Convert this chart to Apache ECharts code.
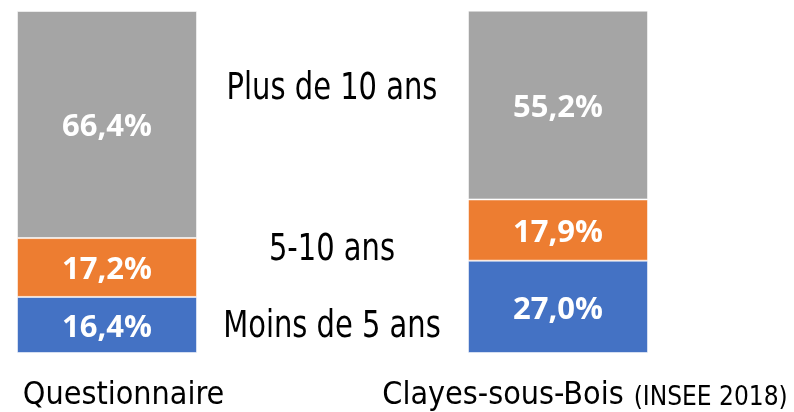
<!DOCTYPE html>
<html>
<head>
<meta charset="utf-8">
<script src="https://cdn.jsdelivr.net/npm/echarts@6/dist/echarts.min.js"></script>
<style>
  html, body { margin: 0; padding: 0; background: #fff; }
  #chart { width: 794px; height: 412px; }
</style>
</head>
<body>
<div id="chart"></div>
<script>
// categories and series values (%)
const categories = ['Questionnaire', 'Clayes-sous-Bois']
const categoryNotes = ['', '(INSEE 2018)']
const seriesNames = ['Moins de 5 ans', '5-10 ans', 'Plus de 10 ans']
const moinsDe5 = [16.4, 27.0]
const de5a10 = [17.2, 17.9]
const plusDe10 = [66.4, 55.2]
const colors = ['#4472C4', '#ED7D31', '#A5A5A5']

const FONT_NARROW = '"DejaVu Sans Condensed", "Liberation Sans Narrow", sans-serif'

const chart = echarts.init(document.getElementById('chart'))

function fmt(p) {
    return p.value.toFixed(1).replace('.', ',') + '%'
}

function makeSeries(name, data, color) {
    return {
        name: name,
        type: 'bar',
        stack: 'total',
        data: data,
        barWidth: 180,
        clip: false,
        itemStyle: {
            color: color,
            borderColor: 'rgba(255,255,255,0.55)',
            borderWidth: 1
        },
        label: {
            show: true,
            position: 'inside',
            offset: [0, 3],
            formatter: fmt,
            color: '#fff',
            fontFamily: '"Open Sans", sans-serif',
            fontWeight: 'bold',
            fontSize: 31
        }
    }
}

function sideLabel(text, y) {
    return {
        type: 'text', x: 332, y: y, scaleX: 0.87,
        style: { text: text, fill: '#000', font: '37px ' + FONT_NARROW, align: 'center', verticalAlign: 'middle' }
    }
}

const option = {
    animation: false,
    // categories sit on the grid edges: bar centres at x=107 and x=558
    grid: {
        left: 107,
        right: 236,
        top: 11,
        bottom: 57,
        containLabel: false
    },
    xAxis: {
        type: 'category',
        data: categories,
        boundaryGap: false,
        axisLine: { show: false },
        axisTick: { show: false },
        splitLine: { show: false },
        axisLabel: {
            margin: 23,
            interval: 0,
            formatter: function (val, idx) {
                if (idx === 0) return '{pad0|}{a|' + val + '}'
                return '{pad1|}{a|' + val + '}{b|' + categoryNotes[idx] + '}'
            },
            rich: {
                a: { fontFamily: FONT_NARROW, fontSize: 32, color: '#000', lineHeight: 40 },
                b: { fontFamily: FONT_NARROW, fontSize: 26, color: '#000', lineHeight: 40, padding: [5, 0, 0, 10] },
                pad0: { width: 33 },
                pad1: { width: 54 }
            }
        }
    },
    yAxis: {
        type: 'value',
        min: 0,
        max: 100,
        show: false
    },
    graphic: [
        sideLabel(seriesNames[2], 89),
        sideLabel(seriesNames[1], 250),
        sideLabel(seriesNames[0], 327)
    ],
    series: [
        makeSeries(seriesNames[0], moinsDe5, colors[0]),
        makeSeries(seriesNames[1], de5a10, colors[1]),
        makeSeries(seriesNames[2], plusDe10, colors[2])
    ]
}

chart.setOption(option)
window.addEventListener('resize', function () {
    chart.resize()
})
</script>
</body>
</html>
